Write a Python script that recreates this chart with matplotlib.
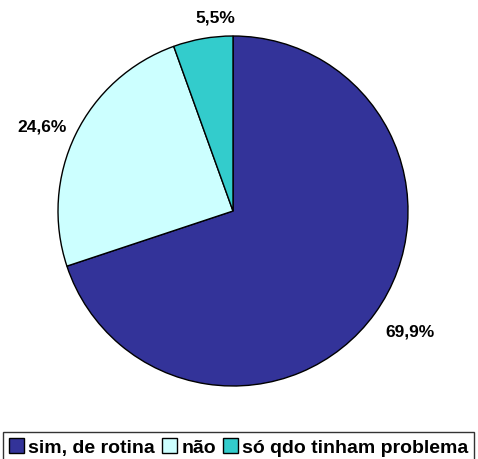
import numpy as np
import matplotlib.pyplot as plt
from matplotlib.patches import Patch

plt.rcParams['font.family'] = ['Liberation Sans', 'DejaVu Sans']

categories = ['sim, de rotina', 'não', 'só qdo tinham problema']
values = [69.9, 24.6, 5.5]
labels = ['69,9%', '24,6%', '5,5%']
colors = ['#333399', '#CCFFFF', '#33CCCC']

# label placement: radial distance and small angle nudge (degrees)
label_dist = [1.22, 1.195, 1.113]
label_nudge = [1.6, 2.0, -4.6]

fig = plt.figure(figsize=(4.78, 4.60), dpi=100)
ax = fig.add_axes([58 / 478, 73 / 460, 350 / 478, 350 / 460])

wedges, _ = ax.pie(values, colors=colors, startangle=90, counterclock=False,
                   wedgeprops=dict(edgecolor='black', linewidth=1))
ax.set_xlim(-1, 1)
ax.set_ylim(-1, 1)
ax.set_aspect('equal')

for w, lab, d, n in zip(wedges, labels, label_dist, label_nudge):
    ang = np.deg2rad((w.theta1 + w.theta2) / 2 + n)
    ax.text(d * np.cos(ang), d * np.sin(ang), lab, ha='center', va='center',
            fontsize=12.5, fontweight='bold')

handles = [Patch(facecolor=c, edgecolor='black') for c in colors]
leg = fig.legend(handles, categories, loc='upper left', bbox_to_anchor=(3 / 478, 1 - 433 / 460),
                 ncol=3, frameon=True, fancybox=False,
                 prop=dict(weight='bold', size=14), handlelength=0.8, handleheight=0.8,
                 handletextpad=0.2, columnspacing=0.35, borderpad=0.3, borderaxespad=0)
leg.get_frame().set_edgecolor('black')
leg.get_frame().set_linewidth(1)

fig.savefig('out.png', dpi=100)
